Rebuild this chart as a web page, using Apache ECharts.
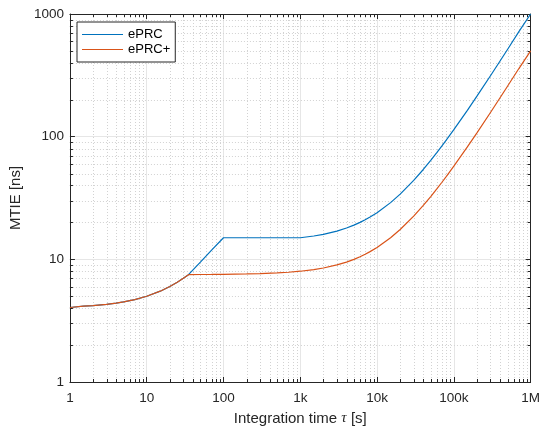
<!DOCTYPE html>
<html><head><meta charset="utf-8">
<script src="https://cdn.jsdelivr.net/npm/echarts@6/dist/echarts.min.js"></script>
<style>html,body{margin:0;padding:0;background:#fff}#c{width:543px;height:432px}</style>
</head><body><div id="c"></div>
<script>
// Integration time tau [s]
const tau = [1, 1.5, 2, 3, 4, 5, 7, 10, 15, 20, 25, 30, 35, 50, 70, 100, 200, 300, 500, 700,
  1000, 1500, 2000, 3000, 4000, 5000, 6000, 7000, 8000, 10000, 15000, 20000, 30000, 40000, 50000, 60000, 70000, 80000,
  100000, 150000, 200000, 300000, 400000, 500000, 700000, 1000000];
// MTIE [ns]
const eprc = [4.05, 4.15, 4.2, 4.3, 4.4, 4.5, 4.7, 5.0, 5.5, 6.0, 6.5, 7.0, 7.5, 9.5, 11.9, 15, 15, 15, 15, 15,
  15, 15.5, 16, 17, 18, 19, 20, 21, 22, 24, 29, 34, 44, 54, 64, 74, 84, 94,
  114, 164, 214, 314, 414, 514, 714, 1000];
const eprcPlus = [4.05, 4.15, 4.2, 4.3, 4.4, 4.5, 4.7, 5.0, 5.5, 6.0, 6.5, 7.0, 7.5, 7.52, 7.53, 7.55, 7.6, 7.65, 7.75, 7.85,
  8.0, 8.25, 8.5, 9.0, 9.5, 10, 10.5, 11, 11.5, 12.5, 15, 17.5, 22.5, 27.5, 32.5, 37.5, 42.5, 47.5,
  57.5, 82.5, 107.5, 157.5, 207.5, 257.5, 357.5, 500];
const seriesNames = ['ePRC', 'ePRC+'];
const xTickLabels = ['1', '10', '100', '1k', '10k', '100k', '1M'];
const yTickLabels = ['1', '10', '100', '1000'];

const FONT = "'Liberation Sans', Arial, Helvetica, sans-serif";
const AXIS = '#262626';
const COLORS = ['#0072BD', '#D95319'];

function pairs(xs, ys) { return xs.map((x, i) => [x, ys[i]]); }

// minor grid positions (2..9 per decade)
const minorItems = [];
for (let d = 1; d < 1e6; d *= 10) for (let m = 2; m <= 9; m++) minorItems.push([m * d, 1, 0]);
for (let d = 1; d < 1e3; d *= 10) for (let m = 2; m <= 9; m++) minorItems.push([1, m * d, 1]);

const chart = echarts.init(document.getElementById('c'), null, {renderer: 'canvas'});
const baseX = {type: 'log', logBase: 10, min: 1, max: 1e6, splitNumber: 6};
const baseY = {type: 'log', logBase: 10, min: 1, max: 1000, splitNumber: 3};
chart.setOption({
  animation: false,
  backgroundColor: '#fff',
  textStyle: {fontFamily: FONT},
  grid: {left: 65, right: 9, top: 14, bottom: 50},
  legend: {
    data: seriesNames.map((n, i) => ({name: n, icon: 'rect', itemStyle: {color: COLORS[i]}})),
    left: 77, top: 22,
    orient: 'vertical',
    backgroundColor: '#fff',
    borderColor: '#262626', borderWidth: 1,
    padding: [6, 5, 6, 5],
    itemWidth: 41, itemHeight: 1.2, itemGap: 2,
    textStyle: {fontSize: 13, color: '#000', fontFamily: FONT, lineHeight: 13}
  },
  xAxis: [
    Object.assign({}, baseX, {
      position: 'bottom',
      name: 'Integration time {i|τ} [s]',
      nameLocation: 'middle', nameGap: 29,
      nameTextStyle: {fontSize: 15, color: '#262626', fontFamily: FONT,
        rich: {i: {fontStyle: 'italic', fontSize: 15, fontFamily: "'Liberation Serif', 'DejaVu Serif', serif", color: '#262626'}}},
      axisLine: {show: true, lineStyle: {color: AXIS, width: 1}},
      axisTick: {show: true, inside: true, length: 5, lineStyle: {color: AXIS}},
      axisLabel: {fontSize: 13.5, color: '#262626', margin: 9, fontFamily: FONT,
        formatter: v => xTickLabels[Math.round(Math.log10(v))]},
      splitLine: {show: true, lineStyle: {color: '#e6e6e6', width: 1}},
      minorTick: {show: false}, minorSplitLine: {show: false}
    }),
    Object.assign({}, baseX, {
      position: 'top',
      axisLine: {show: true, lineStyle: {color: AXIS, width: 1}},
      axisTick: {show: true, inside: true, length: 5, lineStyle: {color: AXIS}},
      axisLabel: {show: false}, splitLine: {show: false}
    })
  ],
  yAxis: [
    Object.assign({}, baseY, {
      position: 'left',
      name: 'MTIE [ns]',
      nameLocation: 'middle', nameGap: 41, nameRotate: 90,
      nameTextStyle: {fontSize: 15, color: '#262626', fontFamily: FONT},
      axisLine: {show: true, lineStyle: {color: AXIS, width: 1}},
      axisTick: {show: true, inside: true, length: 5, lineStyle: {color: AXIS}},
      axisLabel: {fontSize: 13.5, color: '#262626', margin: 6, fontFamily: FONT,
        formatter: v => yTickLabels[Math.round(Math.log10(v))]},
      splitLine: {show: true, lineStyle: {color: '#e6e6e6', width: 1}}
    }),
    Object.assign({}, baseY, {
      position: 'right',
      axisLine: {show: true, lineStyle: {color: AXIS, width: 1}},
      axisTick: {show: true, inside: true, length: 5, lineStyle: {color: AXIS}},
      axisLabel: {show: false}, splitLine: {show: false}
    })
  ],
  series: [
    {
      type: 'custom', name: 'minor', xAxisIndex: 0, yAxisIndex: 0, z: 1, silent: true,
      data: minorItems,
      renderItem(params, api) {
        const cs = params.coordSys;
        const isY = api.value(2) === 1;
        const p = api.coord([api.value(0), api.value(1)]);
        const dotted = {stroke: '#d2d2d2', lineWidth: 1, lineDash: [1, 2]};
        const tick = {stroke: AXIS, lineWidth: 1};
        if (!isY) {
          const x = Math.round(p[0]) + 0.5;
          const y0 = cs.y, y1 = cs.y + cs.height;
          return {type: 'group', children: [
            {type: 'line', shape: {x1: x, y1: y0, x2: x, y2: y1}, style: dotted},
            {type: 'line', shape: {x1: x, y1: y1, x2: x, y2: y1 - 3}, style: tick},
            {type: 'line', shape: {x1: x, y1: y0, x2: x, y2: y0 + 3}, style: tick}
          ]};
        } else {
          const y = Math.round(p[1]) + 0.5;
          const x0 = cs.x, x1 = cs.x + cs.width;
          return {type: 'group', children: [
            {type: 'line', shape: {x1: x0, y1: y, x2: x1, y2: y}, style: dotted},
            {type: 'line', shape: {x1: x0, y1: y, x2: x0 + 3, y2: y}, style: tick},
            {type: 'line', shape: {x1: x1, y1: y, x2: x1 - 3, y2: y}, style: tick}
          ]};
        }
      }
    },
    {
      type: 'line', name: seriesNames[0], data: pairs(tau, eprc), symbol: 'none', z: 3,
      lineStyle: {color: COLORS[0], width: 1.2}, itemStyle: {color: COLORS[0]}
    },
    {
      type: 'line', name: seriesNames[1], data: pairs(tau, eprcPlus), symbol: 'none', z: 3,
      lineStyle: {color: COLORS[1], width: 1.2}, itemStyle: {color: COLORS[1]}
    }
  ]
});
</script>
</body></html>
